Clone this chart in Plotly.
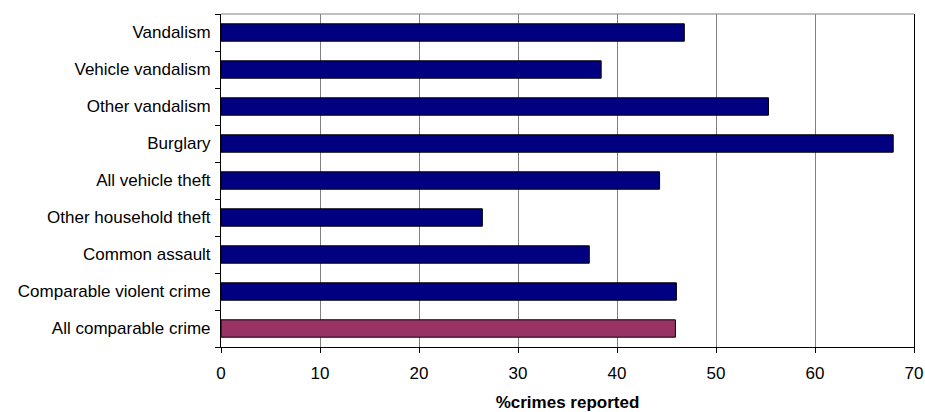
import plotly.graph_objects as go

categories = ["Vandalism", "Vehicle vandalism", "Other vandalism", "Burglary",
              "All vehicle theft", "Other household theft", "Common assault",
              "Comparable violent crime", "All comparable crime"]
values = [46.8, 38.4, 55.3, 67.9, 44.3, 26.4, 37.2, 46.0, 45.9]
bar_colors = ["#000080"] * 8 + ["#993366"]
x_ticks = [0, 10, 20, 30, 40, 50, 60, 70]

FONT = "Liberation Sans, Arial, sans-serif"

fig = go.Figure(go.Bar(
    x=values, y=categories, orientation="h",
    marker=dict(color=bar_colors, line=dict(color="#000000", width=1)),
    width=0.47,
    hoverinfo="skip",
))

fig.update_layout(
    width=925, height=412,
    margin=dict(l=221, r=11, t=14, b=65, autoexpand=False),
    paper_bgcolor="white", plot_bgcolor="white",
    showlegend=False,
    font=dict(family=FONT, size=17, color="#000000"),
    xaxis=dict(
        range=[0, 70], tickvals=x_ticks, automargin=False,
        showgrid=True, gridcolor="#808080", gridwidth=1,
        showline=True, linecolor="#000000", linewidth=1,
        ticks="outside", ticklen=5, tickcolor="#000000",
        ticklabelstandoff=6,
        zeroline=False,
        title=dict(text="<b>%crimes reported</b>", font=dict(size=17), standoff=14),
    ),
    yaxis=dict(
        categoryorder="array", categoryarray=categories[::-1], automargin=False,
        showgrid=False, tickson="boundaries",
        showline=True, linecolor="#000000", linewidth=1, mirror=True,
        ticks="outside", ticklen=5, tickcolor="#000000",
        ticklabelstandoff=6,
    ),
    shapes=[dict(type="line", xref="paper", yref="paper", x0=0, x1=1, y0=1, y1=1,
                 line=dict(color="#808080", width=1))],
)

fig.write_html(
    "out.html",
    config={"displayModeBar": False},
    post_script="document.body.style.margin='0';document.body.style.overflow='hidden';",
)
